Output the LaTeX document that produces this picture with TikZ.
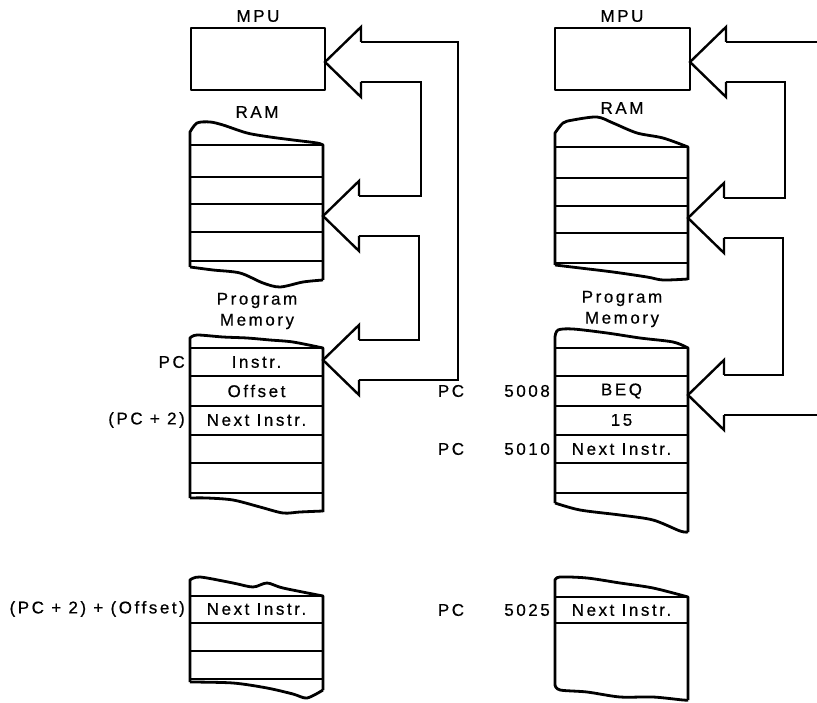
\documentclass[tikz,border=0pt]{standalone}
\usepackage{fontspec}
\setmainfont{Liberation Sans}[LetterSpace=15, FakeBold=0.6]
\usepackage{tikz}

\tikzset{
  wire/.style={line width=2.4pt, line join=miter},
  frame/.style={line width=2.8pt, line join=round},
  rowline/.style={line width=2.2pt},
  lbl/.style={font=\fontsize{17}{21}\selectfont, inner sep=0pt, align=center},
}

% hollow arrow head: #1 name, #2 tip x, #3 tip y
\newcommand{\fatarrow}[3]{%
  \draw[wire] (#2+36,#3-20) coordinate (#1-a) -- (#2+36,#3-35) -- (#2,#3)
    -- (#2+36,#3+35) -- (#2+36,#3+20) coordinate (#1-b);}

\begin{document}
\begin{tikzpicture}[x=1pt, y=-1pt]
\useasboundingbox (0,0) rectangle (817,703);
\coordinate (rim) at (817,0);

% left side
\node[lbl] (mpuLtitle) at (258,16) {MPU};
\node[draw, frame, minimum width=134pt, minimum height=62pt] (mpuL) at (258,59) {};

\node[lbl] (ramLtitle) at (257,112) {RAM};
\draw[frame] (190,267) -- (190,132) -- plot[smooth] coordinates {(190,132) (197,123) (210,122) (223,125) (247,133) (270,137) (293,140) (317,143) (323,145)} -- (323,280);
\draw[frame] plot[smooth] coordinates {(190,267) (213,270) (240,273) (263,283) (280,287) (303,282) (323,280)};
\foreach \y in {145,177,204,232,261} \draw[rowline] (190,\y) -- (323,\y);

\node[lbl] (pmLtitle) at (257,311) {Program\\Memory};
\draw[frame] (190,498) -- (190,338) -- plot[smooth] coordinates {(190,338) (197,335) (223,337) (247,338) (270,340) (293,342) (323,348)} -- (323,512);
\draw[frame] plot[smooth] coordinates {(190,498) (207,498) (233,500) (260,507) (283,513) (300,512) (323,511)};
\foreach \y in {348,376,406,435,463,493} \draw[rowline] (190,\y) -- (323,\y);
\node[lbl] (instrL) at (256.5,362) {Instr.};
\node[lbl] (offsetL) at (256.5,391) {Offset};
\node[lbl] (nextL) at (256.5,420) {Next Instr.};
\node[lbl, anchor=east] (pcL) at (185,362) {PC};
\node[lbl, anchor=east] (pctwoL) at (185,420) {(PC + 2)};

\draw[frame] (190,682) -- (190,580) -- plot[smooth] coordinates {(190,580) (200,577) (233,583) (253,587) (267,583) (283,588) (323,596)} -- (323,690);
\draw[frame] plot[smooth] coordinates {(190,682) (233,683) (267,688) (293,694) (307,698) (323,690)};
\foreach \y in {596,623,651,679} \draw[rowline] (190,\y) -- (323,\y);
\node[lbl] (jumpL) at (256.5,609) {Next Instr.};
\node[lbl, anchor=east] (targetL) at (185,609) {(PC + 2) + (Offset)};

\fatarrow{L1}{325}{62}
\fatarrow{L2}{323}{216}
\fatarrow{L3}{323}{360}
\draw[wire] (L1-a) -- ++(97,0) |- (L3-b);
\draw[wire] (L1-b) -- ++(60,0) |- (L2-a);
\draw[wire] (L2-b) -- ++(60,0) |- (L3-a);

% right side
\node[lbl] (mpuRtitle) at (622,16) {MPU};
\node[draw, frame, minimum width=135pt, minimum height=62pt] (mpuR) at (622.5,59) {};

\node[lbl] (ramRtitle) at (622,108) {RAM};
\draw[frame] (555,265) -- (555,133) -- plot[smooth] coordinates {(555,133) (563,123) (573,120) (597,117) (613,123) (637,133) (663,138) (688,147)} -- (688,280);
\draw[frame] plot[smooth] coordinates {(555,265) (580,268) (613,272) (647,277) (663,280) (688,279)};
\foreach \y in {147,178,206,233,263} \draw[rowline] (555,\y) -- (688,\y);

\node[lbl] (pmRtitle) at (622,309) {Program\\Memory};
\draw[frame] (555,503) -- (555,337) -- plot[smooth] coordinates {(555,337) (558,330) (573,329) (607,333) (640,338) (673,342) (688,348)} -- (688,532);
\draw[frame] plot[smooth] coordinates {(555,503) (580,510) (620,515) (653,520) (680,531) (688,532)};
\foreach \y in {348,376,406,435,463,493} \draw[rowline] (555,\y) -- (688,\y);
\node[lbl] (beq) at (621.5,391) {BEQ};
\node[lbl] (offsetR) at (621.5,420) {15};
\node[lbl] (nextR) at (621.5,449) {Next Instr.};
\node[lbl, anchor=east] (addrA) at (550,391) {5008};
\node[lbl, anchor=east] (addrB) at (550,449) {5010};
\node[lbl] (pcRa) at (451,391) {PC};
\node[lbl] (pcRb) at (451,449) {PC};

\draw[frame] (555,685) -- (555,580) -- plot[smooth] coordinates {(555,580) (560,577) (587,578) (620,583) (653,588) (688,597)} -- (688,700);
\draw[frame] plot[smooth] coordinates {(555,685) (560,690) (587,692) (620,697) (653,697) (683,700) (688,700)};
\foreach \y in {597,623} \draw[rowline] (555,\y) -- (688,\y);
\node[lbl] (jumpR) at (621.5,610) {Next Instr.};
\node[lbl, anchor=east] (addrC) at (550,610) {5025};
\node[lbl] (pcRc) at (451,610) {PC};

\fatarrow{R1}{690}{62}
\fatarrow{R2}{688}{218}
\fatarrow{R3}{688}{395}
\draw[wire] (R1-a) -- (R1-a -| rim);
\draw[wire] (R1-b) -- ++(59,0) |- (R2-a);
\draw[wire] (R2-b) -- ++(59,0) |- (R3-a);
\draw[wire] (R3-b) -- (R3-b -| rim);
\end{tikzpicture}
\end{document}
